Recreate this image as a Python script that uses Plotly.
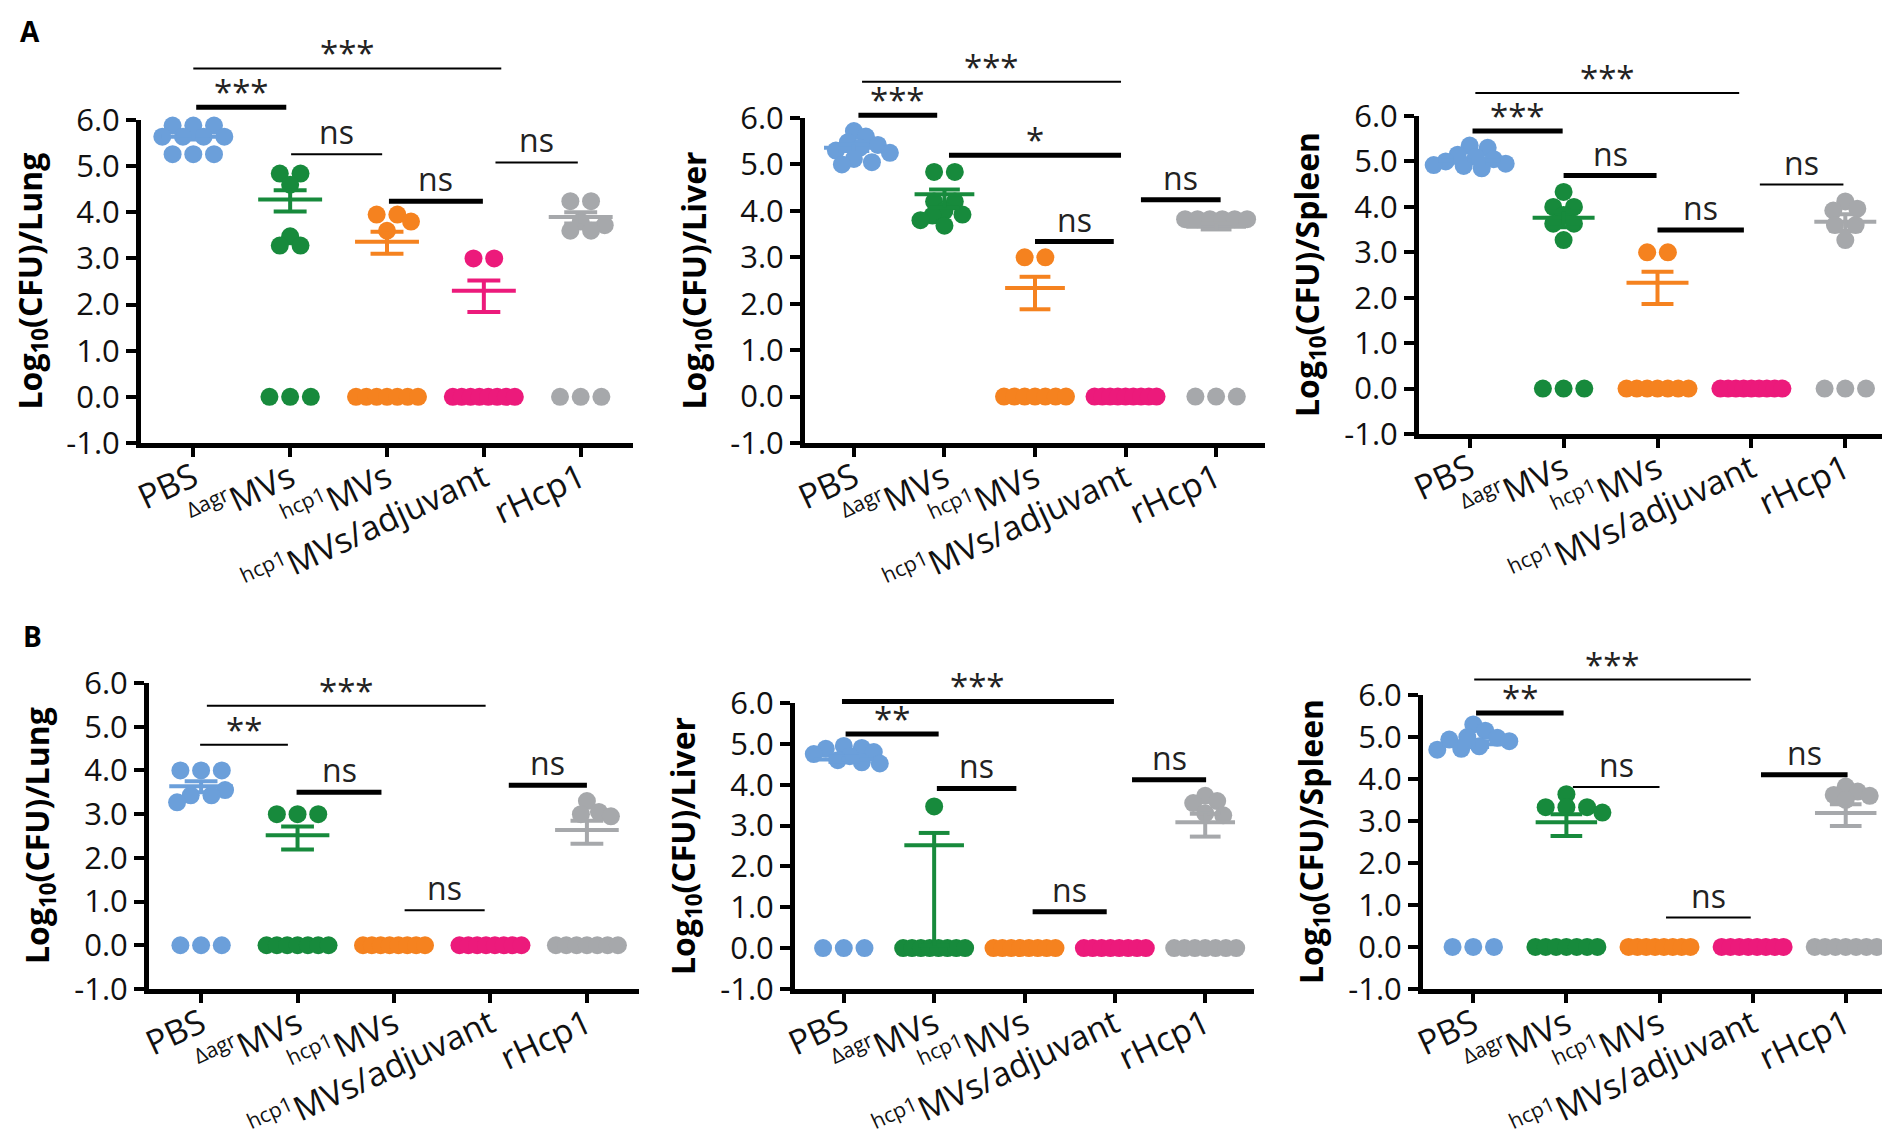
import plotly.graph_objects as go

W, H = 1890, 1148
FONT = "Open Sans"


def sup(s):
    return f"<sup><span style='font-size:21px'>{s}</span></sup>"


CATEGORIES = ["PBS", sup("Δagr") + "MVs", sup("hcp1") + "MVs",
              sup("hcp1") + "MVs/adjuvant", "rHcp1"]
COLORS = ["#6b9fda", "#178a3c", "#f5821f", "#ec1a7b", "#a6a8ab"]
Y_TICKS = [-1, 0, 1, 2, 3, 4, 5, 6]
ORGANS = ["Lung", "Liver", "Spleen", "Lung", "Liver", "Spleen"]

# ---- panel A (log10 CFU per organ) ----
lung_a = [
    [5.88, 5.88, 5.88, 5.64, 5.64, 5.64, 5.64, 5.26, 5.26, 5.26],
    [4.84, 4.84, 4.6, 3.48, 3.28, 3.28, 0, 0, 0],
    [3.95, 3.95, 3.8, 3.6, 0, 0, 0, 0, 0, 0, 0],
    [3.0, 3.0, 0, 0, 0, 0, 0, 0, 0, 0],
    [4.24, 4.24, 3.8, 3.72, 3.6, 3.6, 0, 0, 0],
]
lung_a_mean = [5.64, 4.28, 3.36, 2.3, 3.9]
lung_a_up = [0.06, 0.2, 0.22, 0.22, 0.1]
lung_a_dn = [0.06, 0.26, 0.26, 0.46, 0.14]

liver_a = [
    [5.72, 5.6, 5.48, 5.42, 5.36, 5.3, 5.25, 5.12, 5.05, 5.0],
    [4.84, 4.84, 4.2, 4.2, 4.0, 3.92, 3.9, 3.8, 3.68],
    [3.0, 3.0, 0, 0, 0, 0, 0, 0, 0],
    [0, 0, 0, 0, 0, 0, 0, 0, 0],
    [3.82, 3.82, 3.82, 3.82, 3.82, 3.82, 0, 0, 0],
]
liver_a_mean = [5.36, 4.36, 2.34, None, 3.66]
liver_a_up = [0.07, 0.1, 0.24, 0, 0.06]
liver_a_dn = [0.07, 0.28, 0.46, 0, 0.06]

spleen_a = [
    [5.35, 5.3, 5.15, 5.1, 5.05, 5.0, 4.95, 4.92, 4.9, 4.85],
    [4.33, 4.0, 4.0, 3.82, 3.63, 3.63, 3.27, 0, 0, 0],
    [3.0, 3.0, 0, 0, 0, 0, 0, 0, 0],
    [0, 0, 0, 0, 0, 0, 0, 0, 0],
    [4.12, 3.96, 3.92, 3.6, 3.6, 3.27, 0, 0, 0],
]
spleen_a_mean = [5.02, 3.76, 2.33, None, 3.67]
spleen_a_up = [0.05, 0.14, 0.24, 0, 0.17]
spleen_a_dn = [0.05, 0.21, 0.47, 0, 0.2]

# ---- panel B ----
lung_b = [
    [4.0, 4.0, 4.0, 3.55, 3.43, 3.43, 3.27, 0, 0, 0],
    [3.0, 3.0, 3.0, 0, 0, 0, 0, 0, 0, 0],
    [0, 0, 0, 0, 0, 0, 0, 0],
    [0, 0, 0, 0, 0, 0, 0, 0],
    [3.3, 3.05, 3.0, 2.95, 0, 0, 0, 0, 0, 0, 0],
]
lung_b_mean = [3.64, 2.52, None, None, 2.64]
lung_b_up = [0.11, 0.2, 0, 0, 0.21]
lung_b_dn = [0.14, 0.33, 0, 0, 0.32]

liver_b = [
    [4.95, 4.9, 4.88, 4.8, 4.75, 4.7, 4.6, 4.55, 4.52, 0, 0, 0],
    [3.47, 0, 0, 0, 0, 0, 0, 0, 0],
    [0, 0, 0, 0, 0, 0, 0, 0],
    [0, 0, 0, 0, 0, 0, 0, 0],
    [3.73, 3.6, 3.55, 3.3, 3.25, 0, 0, 0, 0, 0, 0, 0],
]
liver_b_mean = [4.62, 2.52, None, None, 3.08]
liver_b_up = [0.06, 0.3, 0, 0, 0.21]
liver_b_dn = [0.06, 2.45, 0, 0, 0.35]

spleen_b = [
    [5.3, 5.15, 5.0, 4.98, 4.94, 4.9, 4.78, 4.72, 4.7, 0, 0, 0],
    [3.64, 3.33, 3.33, 3.33, 3.2, 0, 0, 0, 0, 0, 0, 0],
    [0, 0, 0, 0, 0, 0, 0, 0],
    [0, 0, 0, 0, 0, 0, 0, 0],
    [3.82, 3.7, 3.62, 3.6, 3.5, 0, 0, 0, 0, 0, 0, 0],
]
spleen_b_mean = [4.83, 2.97, None, None, 3.19]
spleen_b_up = [0.07, 0.19, 0, 0, 0.21]
spleen_b_dn = [0.07, 0.33, 0, 0, 0.31]

# significance bars: (from group, to group, height, label, line width)
lung_a_sig = [(0.0, 3.18, 7.12, "***", 2), (0.03, 0.96, 6.28, "***", 5),
              (1.01, 1.95, 5.26, "ns", 2), (2.02, 2.99, 4.24, "ns", 5),
              (3.12, 3.97, 5.08, "ns", 2)]
liver_a_sig = [(0.09, 2.95, 6.78, "***", 2), (0.05, 0.92, 6.06, "***", 5),
               (1.05, 2.95, 5.2, "*", 5), (2.0, 2.87, 3.34, "ns", 5),
               (3.17, 4.05, 4.24, "ns", 5)]
spleen_a_sig = [(0.06, 2.87, 6.51, "***", 2), (0.03, 0.99, 5.67, "***", 5),
                (1.0, 1.99, 4.69, "ns", 5), (2.0, 2.92, 3.49, "ns", 5),
                (3.09, 3.98, 4.49, "ns", 2)]
lung_b_sig = [(0.06, 2.95, 5.48, "***", 2), (-0.01, 0.9, 4.59, "**", 2),
              (0.99, 1.87, 3.5, "ns", 5), (2.11, 2.94, 0.8, "ns", 2),
              (3.19, 4.0, 3.66, "ns", 5)]
liver_b_sig = [(-0.02, 2.99, 6.04, "***", 5), (0.02, 1.05, 5.24, "**", 5),
               (1.03, 1.91, 3.91, "ns", 5), (2.09, 2.91, 0.89, "ns", 5),
               (3.19, 4.01, 4.12, "ns", 5)]
spleen_b_sig = [(0.01, 2.98, 6.37, "***", 2), (0.03, 0.97, 5.57, "**", 5),
                (1.07, 2.0, 3.81, "ns", 2), (2.07, 2.98, 0.7, "ns", 2),
                (3.09, 4.02, 4.1, "ns", 5)]

panels = [
    (lung_a, lung_a_mean, lung_a_up, lung_a_dn, lung_a_sig),
    (liver_a, liver_a_mean, liver_a_up, liver_a_dn, liver_a_sig),
    (spleen_a, spleen_a_mean, spleen_a_up, spleen_a_dn, spleen_a_sig),
    (lung_b, lung_b_mean, lung_b_up, lung_b_dn, lung_b_sig),
    (liver_b, liver_b_mean, liver_b_up, liver_b_dn, liver_b_sig),
    (spleen_b, spleen_b_mean, spleen_b_up, spleen_b_dn, spleen_b_sig),
]

# plot boxes in pixels: left, right, top (y=6), bottom (y=-1)
boxes = [(133, 625, 112, 435), (797, 1257, 110, 435), (1411, 1888, 108, 426),
         (141, 631, 675, 981), (787, 1246, 695, 981), (1415, 1888, 687, 981)]

X0, X1 = -0.54, 4.54
Y0, Y1 = -1.001, 6.001
DOT = 18


def swarm(vals, ppc, ppu, dot=18, width=62):
    # GraphPad-like scatter: equal values in a row, others pushed sideways
    off = [0.0] * len(vals)
    rows = {}
    for i, v in enumerate(vals):
        rows.setdefault(round(v, 2), []).append(i)
    placed, singles = [], []
    for v, idx in rows.items():
        if len(idx) == 1:
            singles.append(idx[0])
            continue
        step = min(dot * 1.15, width / (len(idx) - 1))
        for j, i in enumerate(idx):
            off[i] = (j - (len(idx) - 1) / 2) * step
            placed.append((off[i], v * ppu))
    cands = [0.0]
    for k in range(1, 7):
        cands += [k * dot / 3, -k * dot / 3]
    for i in sorted(singles, key=lambda k: -vals[k]):
        y = vals[i] * ppu

        def clear(c):
            return min([((c - px) ** 2 + (y - py) ** 2) ** 0.5 for px, py in placed] or [99])
        pick = next((c for c in cands if clear(c) >= dot * 0.7), None)
        if pick is None:
            pick = max(cands, key=clear)
        off[i] = pick
        placed.append((pick, y))
    return [o / ppc for o in off]


fig = go.Figure()

for n, (pts, mean, up, dn, sig) in enumerate(panels, start=1):
    xl, xr, yt, yb = boxes[n - 1]
    ppc = (xr - xl) / (X1 - X0)
    ppu = (yb - yt) / (Y1 - Y0)
    xa = "x" if n == 1 else f"x{n}"
    ya = "y" if n == 1 else f"y{n}"

    for i, vals in enumerate(pts):
        dx = swarm(vals, ppc, ppu)
        fig.add_trace(go.Scatter(
            x=[i + d for d in dx], y=vals, mode="markers",
            marker=dict(size=DOT, color=COLORS[i], line=dict(width=0)),
            cliponaxis=False, xaxis=xa, yaxis=ya, hoverinfo="skip"))

    for i in range(5):
        if mean[i] is None:
            continue
        m, hi, lo = mean[i], mean[i] + up[i], mean[i] - dn[i]
        xs = [i - 0.33, i + 0.33, None, i - 0.17, i + 0.17, None,
              i - 0.17, i + 0.17, None, i, i]
        ys = [m, m, None, hi, hi, None, lo, lo, None, hi, lo]
        fig.add_trace(go.Scatter(x=xs, y=ys, mode="lines",
                                 line=dict(color=COLORS[i], width=4),
                                 xaxis=xa, yaxis=ya, hoverinfo="skip"))

    suffix = "" if n == 1 else str(n)
    fig.layout["xaxis" + suffix] = dict(
        domain=[xl / W, xr / W], range=[X0, X1], anchor=ya, automargin=False,
        tickvals=list(range(5)), ticktext=CATEGORIES, tickangle=-25,
        ticklabelstandoff=-12,
        ticks="outside", ticklen=9, tickwidth=4, tickcolor="black",
        showline=True, linewidth=5, linecolor="black",
        showgrid=False, zeroline=False,
        tickfont=dict(family=FONT, size=34, color="#111111"))
    fig.layout["yaxis" + suffix] = dict(
        domain=[1 - yb / H, 1 - yt / H], range=[Y0, Y1], anchor=xa, automargin=False,
        tickvals=Y_TICKS, ticktext=[f"{v:.1f}" for v in Y_TICKS],
        ticks="outside", ticklen=10, tickwidth=4, tickcolor="black",
        showline=True, linewidth=5, linecolor="black",
        showgrid=False, zeroline=False,
        tickfont=dict(family=FONT, size=31, color="#111111"))

    for x0, x1, y, label, lw in sig:
        fy = (y - Y0) / (Y1 - Y0)
        fig.add_shape(type="line", xref=xa, yref=ya + " domain",
                      x0=x0, x1=x1, y0=fy, y1=fy,
                      line=dict(color="black", width=lw))
        star = "*" in label
        fig.add_annotation(xref=xa, yref=ya + " domain", x=(x0 + x1) / 2, y=fy,
                           text=label, showarrow=False, yanchor="bottom",
                           yshift=-9 if star else -1,
                           font=dict(family=FONT, size=33 if star else 32,
                                     color="#222222"))

    fig.add_annotation(xref=xa + " domain", yref=ya + " domain", x=0, y=0.5,
                       xshift=-110, xanchor="center", yanchor="middle",
                       textangle=-90, showarrow=False,
                       text=f"<b>Log<sub>10</sub>(CFU)/{ORGANS[n - 1]}</b>",
                       font=dict(family=FONT, size=32, color="black"))

for letter, px, py in [("A", 22, 23), ("B", 24, 628)]:
    fig.add_annotation(xref="paper", yref="paper", x=px / W, y=1 - py / H,
                       text=f"<b>{letter}</b>", showarrow=False,
                       xanchor="center", yanchor="middle",
                       font=dict(family=FONT, size=28, color="black"))

fig.update_layout(width=W, height=H, margin=dict(l=0, r=0, t=0, b=0),
                  plot_bgcolor="white", paper_bgcolor="white", showlegend=False)

fig.write_html("out.html")
